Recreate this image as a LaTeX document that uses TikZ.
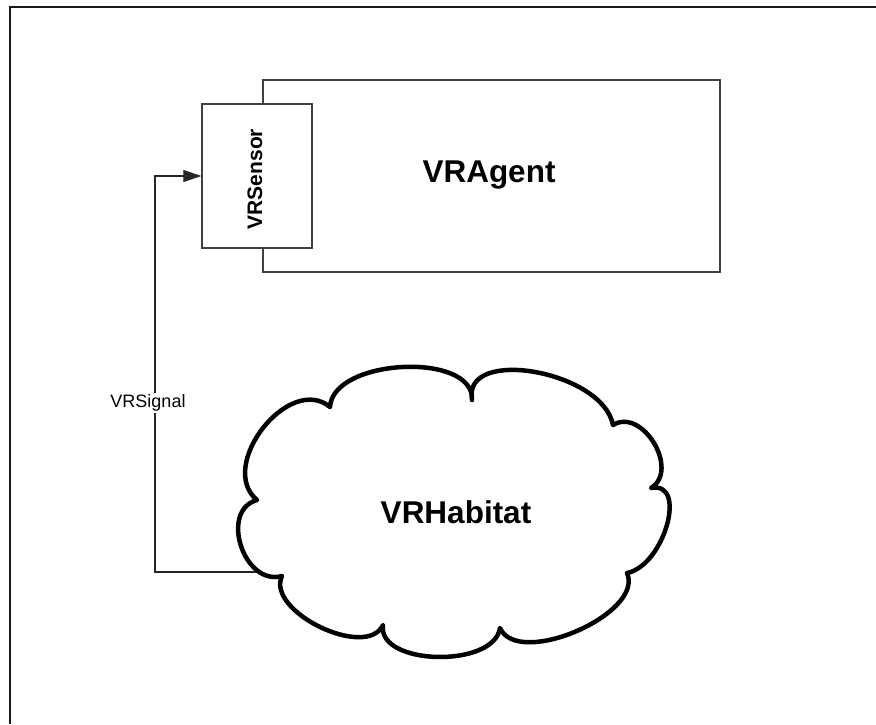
\documentclass[tikz,border=0pt]{standalone}
\usepackage{fontspec}
\setmainfont{Liberation Sans}
\usetikzlibrary{calc,arrows.meta}

\tikzset{
  frameline/.style={draw=black!90, line width=1.8pt},
  boxline/.style={draw=black!75, line width=1.4pt, fill=white, inner sep=0pt},
  cloudline/.style={draw=black, line width=4.5pt, line join=round, fill=white},
  sigline/.style={draw=black!85, line width=1.1pt},
  bigtext/.style={font=\fontsize{31.5}{36}\selectfont\bfseries},
  sensortext/.style={font=\fontsize{21}{24}\selectfont\bfseries},
  sigtext/.style={font=\fontsize{18}{21}\selectfont, fill=white, inner sep=2pt},
}

\begin{document}
\begin{tikzpicture}[x=1pt,y=-1pt]
\useasboundingbox (0,0) rectangle (876,724);

% outer frame (left and top edges)
\coordinate (fbl) at (10,724);
\coordinate (ftl) at (10,7);
\coordinate (ftr) at (876,7);
\draw[frameline] (fbl) -- (ftl) -- (ftr);

% agent and its sensor
\node[boxline, minimum width=457pt, minimum height=192pt, bigtext] (agent) at (491.5,176) {};
\node[bigtext] (agentlabel) at (489,175) {VRAgent};
\node[boxline, minimum width=110pt, minimum height=144pt] (sensor) at (257,176) {};
\node[sensortext] (sensorlabel) at (255,179) {\rotatebox{90}{VRSensor}};

% cloud outline: notches n, lobe apexes m
\coordinate (n1) at (330,407);
\coordinate (m1) at (403,367);
\coordinate (n2) at (472,400);
\coordinate (m2) at (535,372);
\coordinate (n3) at (613,425);
\coordinate (m3) at (654,443);
\coordinate (n4) at (651,488);
\coordinate (m4) at (667,525);
\coordinate (n5) at (627,573);
\coordinate (m5) at (577,631);
\coordinate (n6) at (500,628);
\coordinate (m6) at (437,657);
\coordinate (n7) at (383,625);
\coordinate (m7) at (320,627);
\coordinate (n8) at (282,576);
\coordinate (m8) at (241,546);
\coordinate (n9) at (257,500);
\coordinate (m9) at (263,428);

% signal path from the habitat to the sensor
\coordinate (join) at (264,572);
\coordinate (bend) at (155,572);
\draw[sigline, -{Triangle[length=18pt,width=12pt]}] (join) -- (bend) |- (sensor.west);
\node[sigtext] (siglabel) at (148,403) {VRSignal};

\draw[cloudline]
  (n1) .. controls ($0.3333*(n1)+1.3333*(m1)-0.6667*(n2)$) and ($0.3333*(n2)+1.3333*(m1)-0.6667*(n1)$) .. (n2)
       .. controls ($0.3333*(n2)+1.3333*(m2)-0.6667*(n3)$) and ($0.3333*(n3)+1.3333*(m2)-0.6667*(n2)$) .. (n3)
       .. controls ($0.3333*(n3)+1.3333*(m3)-0.6667*(n4)$) and ($0.3333*(n4)+1.3333*(m3)-0.6667*(n3)$) .. (n4)
       .. controls ($0.3333*(n4)+1.3333*(m4)-0.6667*(n5)$) and ($0.3333*(n5)+1.3333*(m4)-0.6667*(n4)$) .. (n5)
       .. controls ($0.3333*(n5)+1.3333*(m5)-0.6667*(n6)$) and ($0.3333*(n6)+1.3333*(m5)-0.6667*(n5)$) .. (n6)
       .. controls ($0.3333*(n6)+1.3333*(m6)-0.6667*(n7)$) and ($0.3333*(n7)+1.3333*(m6)-0.6667*(n6)$) .. (n7)
       .. controls ($0.3333*(n7)+1.3333*(m7)-0.6667*(n8)$) and ($0.3333*(n8)+1.3333*(m7)-0.6667*(n7)$) .. (n8)
       .. controls ($0.3333*(n8)+1.3333*(m8)-0.6667*(n9)$) and ($0.3333*(n9)+1.3333*(m8)-0.6667*(n8)$) .. (n9)
       .. controls ($0.3333*(n9)+1.3333*(m9)-0.6667*(n1)$) and ($0.3333*(n1)+1.3333*(m9)-0.6667*(n9)$) .. (n1)
  -- cycle;
\node[bigtext] (habitat) at (456,512) {VRHabitat};
\end{tikzpicture}
\end{document}
